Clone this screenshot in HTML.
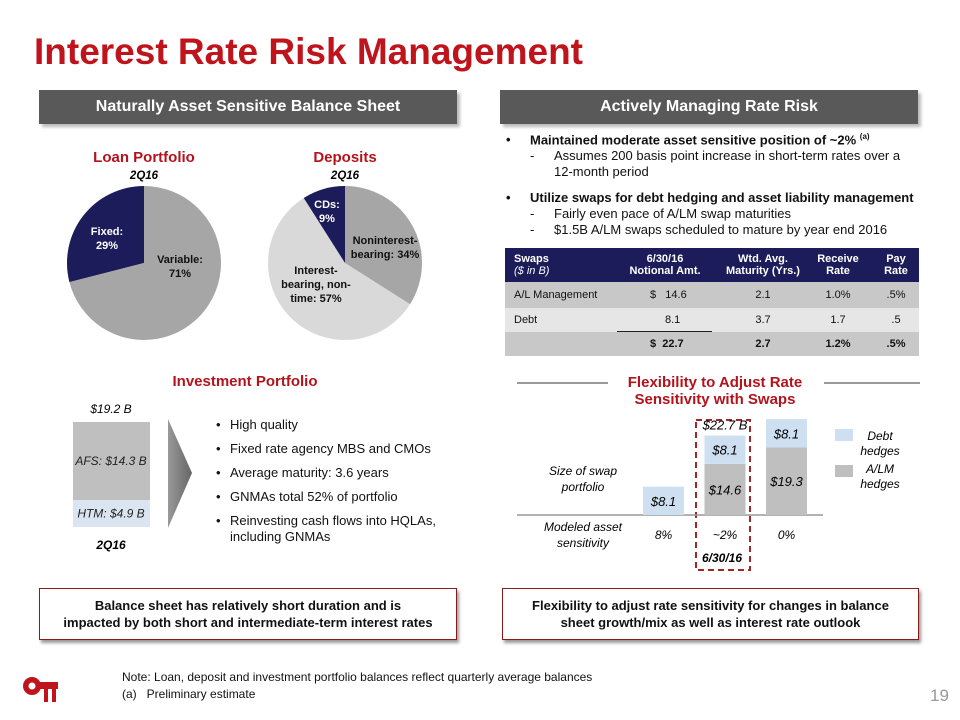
<!DOCTYPE html>
<html><head><meta charset="utf-8"><style>
*{margin:0;padding:0;box-sizing:border-box}
body{width:960px;height:720px;background:#fff;font-family:"Liberation Sans",Arial,sans-serif;position:relative;overflow:hidden;color:#111}
.a{position:absolute}
.hdr{position:absolute;height:34px;background:#595959;color:#fff;font-weight:bold;font-size:16px;text-align:center;line-height:34px;box-shadow:3px 3px 3px #bbb}
.c{text-align:center}
.box{position:absolute;background:#fff;border:1.5px solid #8b1a1a;box-shadow:2px 3px 3px #999;font-weight:bold;font-size:13px;text-align:center;display:flex;align-items:center;justify-content:center;line-height:17px}
</style></head><body>
<div class="a" style="left:34px;top:31px;font-size:37px;font-weight:bold;color:#c0141c">Interest Rate Risk Management</div>

<div class="hdr" style="left:39px;top:90px;width:418px">Naturally Asset Sensitive Balance Sheet</div>
<div class="hdr" style="left:500px;top:90px;width:418px">Actively Managing Rate Risk</div>

<div class="a" style="left:506px;top:129px;font-size:13px;line-height:16px;width:420px">
<div style="font-weight:bold"><span style="display:inline-block;width:24px">•</span>Maintained moderate asset sensitive position of ~2% <sup style="font-size:8px">(a)</sup></div>
<div style="padding-left:24px"><span style="display:inline-block;width:24px">-</span>Assumes 200 basis point increase in short-term rates over a</div>
<div style="padding-left:48px">12-month period</div>
<div style="font-weight:bold;margin-top:10px"><span style="display:inline-block;width:24px">•</span>Utilize swaps for debt hedging and asset liability management</div>
<div style="padding-left:24px"><span style="display:inline-block;width:24px">-</span>Fairly even pace of A/LM swap maturities</div>
<div style="padding-left:24px"><span style="display:inline-block;width:24px">-</span>$1.5B A/LM swaps scheduled to mature by year end 2016</div>
</div>

<div class="a" style="left:505px;top:248px;width:414px;font-size:11px">
<div style="background:#1c1c5a;color:#fff;height:34px;position:relative;font-weight:bold">
<div class="a" style="left:9px;top:5px">Swaps<br><i style="font-weight:normal">($ in B)</i></div>
<div class="a c" style="left:110px;top:5px;width:100px">6/30/16<br>Notional Amt.</div>
<div class="a c" style="left:208px;top:5px;width:100px">Wtd. Avg.<br>Maturity (Yrs.)</div>
<div class="a c" style="left:303px;top:5px;width:60px">Receive<br>Rate</div>
<div class="a c" style="left:371px;top:5px;width:40px">Pay<br>Rate</div>
</div>
<div style="background:#c8c8c8;height:26px;position:relative;line-height:26px">
<div class="a" style="left:9px">A/L Management</div><div class="a" style="left:145px">$ &nbsp;&nbsp;14.6</div>
<div class="a c" style="left:208px;width:100px">2.1</div><div class="a c" style="left:303px;width:60px">1.0%</div><div class="a c" style="left:371px;width:40px">.5%</div></div>
<div style="background:#e6e6e6;height:24px;position:relative;line-height:24px">
<div class="a" style="left:9px">Debt</div><div class="a" style="left:160px">8.1</div>
<div class="a c" style="left:208px;width:100px">3.7</div><div class="a c" style="left:303px;width:60px">1.7</div><div class="a c" style="left:371px;width:40px">.5</div>
<div class="a" style="left:112px;top:23px;width:95px;height:2px;background:#222"></div></div>
<div style="background:#c8c8c8;height:24px;position:relative;line-height:24px;font-weight:bold">
<div class="a" style="left:145px">$ &nbsp;22.7</div>
<div class="a c" style="left:208px;width:100px">2.7</div><div class="a c" style="left:303px;width:60px">1.2%</div><div class="a c" style="left:371px;width:40px">.5%</div></div>
</div>

<svg class="a" style="left:0;top:140px" width="480" height="215" id="pies">
<text x="144" y="22" text-anchor="middle" font-size="15" font-weight="bold" fill="#b3141c">Loan Portfolio</text>
<text x="144" y="39" text-anchor="middle" font-size="11.5" font-weight="bold" font-style="italic">2Q16</text>
<text x="345" y="22" text-anchor="middle" font-size="15" font-weight="bold" fill="#b3141c">Deposits</text>
<text x="345" y="39" text-anchor="middle" font-size="11.5" font-weight="bold" font-style="italic">2Q16</text>
</svg>

<div class="a c" style="left:140px;top:373px;width:210px;font-size:15px;font-weight:bold;color:#b3141c">Investment Portfolio</div>
<svg class="a" style="left:50px;top:395px" width="130" height="160" id="inv"></svg>
<svg class="a" style="left:166px;top:419px" width="30" height="110">
<defs><linearGradient id="g" x1="0" x2="1"><stop offset="0" stop-color="#999"/><stop offset="1" stop-color="#666"/></linearGradient></defs>
<polygon points="2,0 26,54 2,109" fill="url(#g)"/></svg>
<div class="a" style="left:216px;top:417px;font-size:13px;line-height:16px">
<div><span style="display:inline-block;width:14px">•</span>High quality</div>
<div style="margin-top:8px"><span style="display:inline-block;width:14px">•</span>Fixed rate agency MBS and CMOs</div>
<div style="margin-top:8px"><span style="display:inline-block;width:14px">•</span>Average maturity: 3.6 years</div>
<div style="margin-top:8px"><span style="display:inline-block;width:14px">•</span>GNMAs total 52% of portfolio</div>
<div style="margin-top:8px"><span style="display:inline-block;width:14px">•</span>Reinvesting cash flows into HQLAs,</div>
<div style="padding-left:14px">including GNMAs</div>
</div>

<svg class="a" style="left:500px;top:365px" width="440" height="215" id="flex">
<line x1="17" y1="18" x2="108" y2="18" stroke="#333" stroke-width="1"/>
<line x1="324" y1="18" x2="420" y2="18" stroke="#333" stroke-width="1"/>
<text x="215" y="22" text-anchor="middle" font-size="15" font-weight="bold" fill="#b3141c">Flexibility to Adjust Rate</text>
<text x="215" y="39" text-anchor="middle" font-size="15" font-weight="bold" fill="#b3141c">Sensitivity with Swaps</text>
<text x="83" y="110" text-anchor="middle" font-size="12" font-style="italic">Size of swap</text>
<text x="83" y="126" text-anchor="middle" font-size="12" font-style="italic">portfolio</text>
<text x="83" y="166" text-anchor="middle" font-size="12" font-style="italic">Modeled asset</text>
<text x="83" y="182" text-anchor="middle" font-size="12" font-style="italic">sensitivity</text>
<rect x="335" y="64" width="18" height="12" fill="#cddff0"/>
<text x="380" y="75" text-anchor="middle" font-size="12" font-style="italic">Debt</text>
<text x="380" y="90" text-anchor="middle" font-size="12" font-style="italic">hedges</text>
<rect x="335" y="100" width="18" height="12" fill="#bfbfbf"/>
<text x="380" y="108" text-anchor="middle" font-size="12" font-style="italic">A/LM</text>
<text x="380" y="123" text-anchor="middle" font-size="12" font-style="italic">hedges</text>
<rect x="196" y="55" width="54" height="150" fill="none" stroke="#a0282a" stroke-width="2" stroke-dasharray="6,4"/>
<text x="222" y="197" text-anchor="middle" font-size="12" font-weight="bold" font-style="italic">6/30/16</text>
</svg>

<div class="box" style="left:39px;top:588px;width:418px;height:52px">Balance sheet has relatively short duration and is<br>impacted by both short and intermediate-term interest rates</div>
<div class="box" style="left:502px;top:588px;width:417px;height:52px">Flexibility to adjust rate sensitivity for changes in balance<br>sheet growth/mix as well as interest rate outlook</div>

<svg class="a" style="left:22px;top:668px" width="42" height="42">
<circle cx="10" cy="18" r="9" fill="#c0141c"/><circle cx="10" cy="18" r="3.5" fill="#fff"/>
<rect x="14" y="14" width="22" height="7" fill="#c0141c"/><rect x="22" y="20" width="4" height="14" fill="#c0141c"/><rect x="30" y="20" width="4" height="14" fill="#c0141c"/></svg>
<div class="a" style="left:122px;top:669px;font-size:12px;line-height:17px">Note: Loan, deposit and investment portfolio balances reflect quarterly average balances<br>(a)&nbsp;&nbsp;&nbsp;Preliminary estimate</div>
<div class="a" style="left:930px;top:686px;font-size:17px;color:#999">19</div>

<script>
const loanLabels = ["Fixed", "Variable"];
const loanValues = [29, 71];
const depLabels = ["Noninterest-bearing", "Interest-bearing, non-time", "CDs"];
const depValues = [34, 57, 9];
const invLabels = ["AFS", "HTM"];
const invValues = [14.3, 4.9];
const swapCategories = ["Scenario 1", "6/30/16", "Scenario 3"];
const almValues = [0, 14.6, 19.3];
const debtValues = [8.1, 8.1, 8.1];
const sensitivityLabels = ["8%", "~2%", "0%"];
const totalLabels = ["", "$22.7 B", ""];

const NS = "http://www.w3.org/2000/svg";
function mk(p, t, a) { const e = document.createElementNS(NS, t); for (const k in a) e.setAttribute(k, a[k]); p.appendChild(e); return e; }

const pies = document.getElementById('pies');
function arc(cx, cy, r, a0, a1) {
  const p = a => [cx + r * Math.sin(a), cy - r * Math.cos(a)];
  const [x0, y0] = p(a0), [x1, y1] = p(a1);
  const large = Math.abs(a1 - a0) > Math.PI ? 1 : 0;
  const sw = a1 > a0 ? 1 : 0;
  return `M${cx},${cy} L${x0},${y0} A${r},${r} 0 ${large} ${sw} ${x1},${y1} Z`;
}
(function () {
  const cx = 144, cy = 123, r = 77, tot = loanValues.reduce((a, b) => a + b, 0);
  const fa = loanValues[0] / tot * 2 * Math.PI;
  const s1 = mk(pies, 'path', { d: arc(cx, cy, r, 0, -fa), fill: '#1c1c5a' });
  
  
  const s2 = mk(pies, 'path', { d: arc(cx, cy, r, 0, 2 * Math.PI - fa), fill: '#a6a6a6' });
  
  
  const t1 = mk(pies, 'text', { 'text-anchor': 'middle', 'font-size': 11, 'font-weight': 'bold', fill: '#fff' });
  t1.innerHTML = `<tspan x="107" y="95">${loanLabels[0]}:</tspan><tspan x="107" dy="14">${loanValues[0]}%</tspan>`;
  const t2 = mk(pies, 'text', { 'text-anchor': 'middle', 'font-size': 11, 'font-weight': 'bold', fill: '#111' });
  t2.innerHTML = `<tspan x="180" y="123">${loanLabels[1]}:</tspan><tspan x="180" dy="14">${loanValues[1]}%</tspan>`;
})();
(function () {
  const cx = 345, cy = 123, r = 77, tot = depValues.reduce((a, b) => a + b, 0);
  const cols = ['#a6a6a6', '#d9d9d9', '#1c1c5a'];
  const names = ['deposit-slice-noninterest', 'deposit-slice-interest', 'deposit-slice-cds'];
  let a = 0;
  depValues.forEach((v, i) => {
    const b = a + v / tot * 2 * Math.PI;
    const s = mk(pies, 'path', { d: arc(cx, cy, r, a, b), fill: cols[i] });
    
    
    a = b;
  });
  const t1 = mk(pies, 'text', { 'text-anchor': 'middle', 'font-size': 11, 'font-weight': 'bold', fill: '#111' });
  t1.innerHTML = `<tspan x="385" y="104">Noninterest-</tspan><tspan x="385" dy="14">bearing: ${depValues[0]}%</tspan>`;
  const t2 = mk(pies, 'text', { 'text-anchor': 'middle', 'font-size': 11, 'font-weight': 'bold', fill: '#111' });
  t2.innerHTML = `<tspan x="316" y="134">Interest-</tspan><tspan x="316" dy="14">bearing, non-</tspan><tspan x="316" dy="14">time: ${depValues[1]}%</tspan>`;
  const t3 = mk(pies, 'text', { 'text-anchor': 'middle', 'font-size': 11, 'font-weight': 'bold', fill: '#fff' });
  t3.innerHTML = `<tspan x="327" y="68">CDs:</tspan><tspan x="327" dy="14">${depValues[2]}%</tspan>`;
})();

(function () {
  const svg = document.getElementById('inv');
  const tot = invValues.reduce((a, b) => a + b, 0);
  const H = 105, base = 132, y = v => v / tot * H;
  const cols = ['#bfbfbf', '#dbe5f1'];
  const names = ['investment-segment-afs', 'investment-segment-htm'];
  let top = base - H;
  const tt = mk(svg, 'text', { x: 61, y: top - 9, 'text-anchor': 'middle', 'font-size': 12, 'font-style': 'italic' });
  tt.textContent = `$${tot.toFixed(1)} B`;
  invValues.forEach((v, i) => {
    const h = y(v);
    const r = mk(svg, 'rect', { x: 23, y: top, width: 77, height: h, fill: cols[i] });
    
    
    const t = mk(svg, 'text', { x: 61, y: top + h / 2 + 4, 'text-anchor': 'middle', 'font-size': 12, 'font-style': 'italic', fill: '#222' });
    t.textContent = `${invLabels[i]}: $${v.toFixed(1)} B`;
    top += h;
  });
  const q = mk(svg, 'text', { x: 61, y: 154, 'text-anchor': 'middle', 'font-size': 12, 'font-weight': 'bold', 'font-style': 'italic' });
  q.textContent = '2Q16';
})();

(function () {
  const svg = document.getElementById('flex');
  const base = 150, k = 3.5, bw = 41;
  const xs = i => 143 + i * 61.5;
  mk(svg, 'line', { x1: 17, y1: base, x2: 323, y2: base, stroke: '#999', 'stroke-width': 1.5 });
  swapCategories.forEach((c, i) => {
    const x = xs(i);
    let top = base;
    if (almValues[i] > 0) {
      const h = almValues[i] * k; top -= h;
      const r = mk(svg, 'rect', { x: x, y: top, width: bw, height: h, fill: '#bfbfbf' });
      
      
      const t = mk(svg, 'text', { x: x + bw / 2, y: top + h / 2 + 5, 'text-anchor': 'middle', 'font-size': 13, 'font-style': 'italic' });
      t.textContent = '$' + almValues[i].toFixed(1);
    }
    const h2 = debtValues[i] * k; top -= h2;
    const r2 = mk(svg, 'rect', { x: x, y: top, width: bw, height: h2, fill: '#cddff0' });
    
    
    const t2 = mk(svg, 'text', { x: x + bw / 2, y: top + h2 / 2 + 5, 'text-anchor': 'middle', 'font-size': 13, 'font-style': 'italic' });
    t2.textContent = '$' + debtValues[i].toFixed(1);
    if (totalLabels[i]) {
      const tl = mk(svg, 'text', { x: x + bw / 2, y: top - 6, 'text-anchor': 'middle', 'font-size': 13, 'font-style': 'italic' });
      tl.textContent = totalLabels[i];
    }
    const s = mk(svg, 'text', { x: x + bw / 2, y: 174, 'text-anchor': 'middle', 'font-size': 12, 'font-style': 'italic' });
    s.textContent = sensitivityLabels[i];
  });
})();
</script>
</body></html>
